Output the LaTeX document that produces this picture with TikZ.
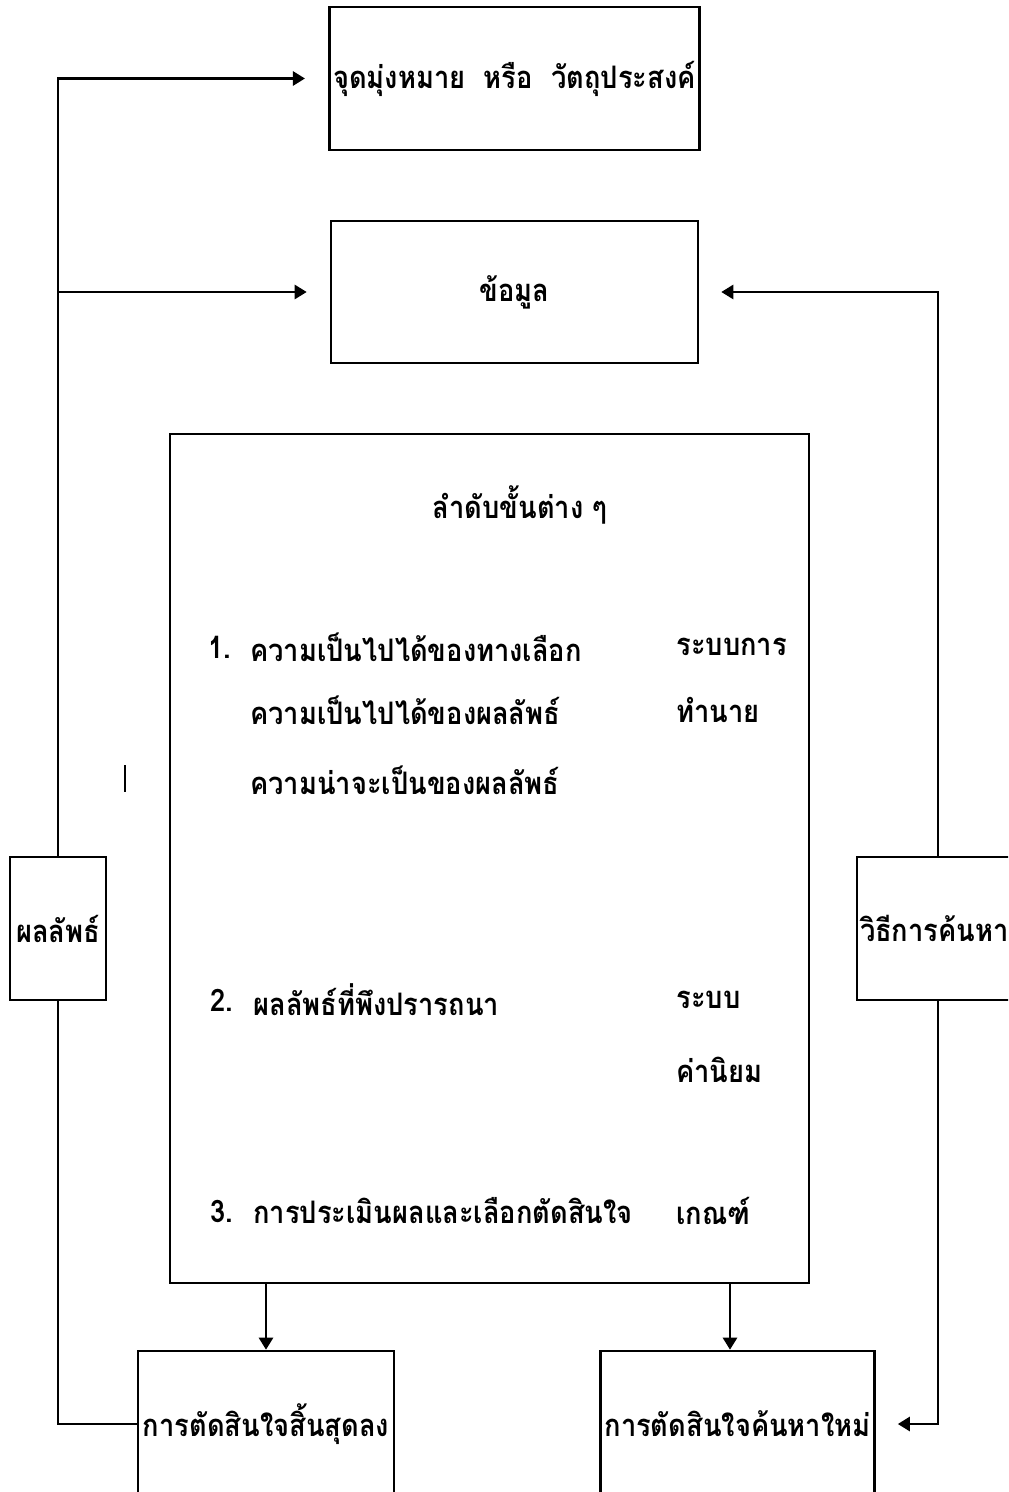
\documentclass[tikz,border=0pt]{standalone}
\usepackage{fontspec}
\newfontfamily\thaifont[Script=Thai,FakeStretch=0.88]{Loma}
\usetikzlibrary{arrows.meta}

\begin{document}
\begin{tikzpicture}[x=0.5pt,y=-0.5pt,
    box/.style={draw,line width=1.3pt,inner sep=2pt,font=\thaifont\bfseries\fontsize{15.5}{17}\selectfont},
    txt/.style={inner sep=0pt,font=\thaifont\bfseries\fontsize{15.5}{17}\selectfont},
    conn/.style={line width=1.3pt},
    arr/.style={conn,-{Triangle[length=6pt,width=7pt]}}]
    %%%%% START %%%%%
    \useasboundingbox (0,0) rectangle (1008,1492);
    \clip (0,0) rectangle (1008,1492);

    % boxes
    \node[box,minimum width=183.5pt,minimum height=71.5pt] (goal) at (514.5,78.5) {จุดมุ่งหมาย\ \ หรือ\ \ วัตถุประสงค์};
    \node[box,minimum width=183.5pt,minimum height=71pt] (data) at (514.5,292) {ข้อมูล};
    \node[box,minimum width=319.5pt,minimum height=424.5pt] (steps) at (489.5,858.5) {};
    \node[box,minimum width=48pt,minimum height=71.5pt] (res) at (58,928.5) {ผลลัพธ์};
    \node[box,inner xsep=1.5pt,text width=78pt,align=left,minimum height=71.5pt] (search) at (938,928.5) {วิธีการค้นหา};
    \node[box,minimum width=128pt,minimum height=73pt] (endd) at (266,1424) {การตัดสินใจสิ้นสุดลง};
    \node[box,minimum width=135.5pt,minimum height=73pt] (newd) at (737.5,1424) {การตัดสินใจค้นหาใหม่};

    % text in the big box
    \node[txt] (title) at (520,505) {ลำดับขั้นต่าง ๆ};
    \node[txt,anchor=west] (n1) at (208,647) {1.};
    \node[txt,anchor=west] (a1) at (250,647) {ความเป็นไปได้ของทางเลือก};
    \node[txt,anchor=west] (a2) at (250,710) {ความเป็นไปได้ของผลลัพธ์};
    \node[txt,anchor=west] (a3) at (250,780) {ความน่าจะเป็นของผลลัพธ์};
    \node[txt,anchor=west] (b1) at (676,647) {ระบบการ};
    \node[txt,anchor=west] (b2) at (676,710) {ทำนาย};
    \node[txt,anchor=west] (n2) at (210,1000) {2.};
    \node[txt,anchor=west] (a4) at (253,1000) {ผลลัพธ์ที่พึงปรารถนา};
    \node[txt,anchor=west] (b3) at (676,1000) {ระบบ};
    \node[txt,anchor=west] (b4) at (676,1070) {ค่านิยม};
    \node[txt,anchor=west] (n3) at (210,1211) {3.};
    \node[txt,anchor=west] (a5) at (253,1211) {การประเมินผลและเลือกตัดสินใจ};
    \node[txt,anchor=west] (b5) at (676,1211) {เกณฑ์};

    % connectors
    \draw[arr,shorten >=11.5pt] (res.north) |- (goal.west);
    \draw[arr,shorten >=11.5pt] (res.north |- data.west) -- (data.west);
    \draw[arr,shorten >=11pt] (search.north) |- (data.east);
    \draw[conn] (res.south) |- (endd.west);
    \draw[arr,shorten >=11pt] (search.south) |- (newd.east);
    \draw[arr] (endd.north |- steps.south) -- (endd.north);
    \draw[arr] ([xshift=-3.75pt]newd.north |- steps.south) -- ([xshift=-3.75pt]newd.north);

    \draw[line width=1pt] (125,765) -- (125,792);
    %%%%% END %%%%%
\end{tikzpicture}
\end{document}
